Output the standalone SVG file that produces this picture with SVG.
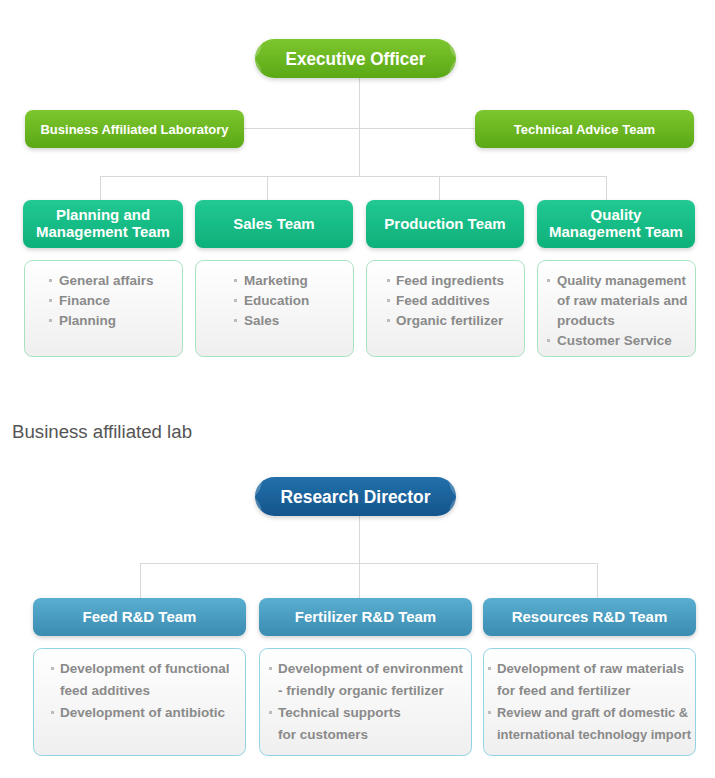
<svg xmlns="http://www.w3.org/2000/svg" width="715" height="778" viewBox="0 0 715 778">
<defs>
<linearGradient id="gGreen" x1="0" y1="0" x2="0" y2="1"><stop offset="0" stop-color="#7dc62f"/><stop offset="1" stop-color="#5aa816"/></linearGradient>
<linearGradient id="gTeal" x1="0" y1="0" x2="0" y2="1"><stop offset="0" stop-color="#22c892"/><stop offset="1" stop-color="#0eb07a"/></linearGradient>
<linearGradient id="gBlue" x1="0" y1="0" x2="0" y2="1"><stop offset="0" stop-color="#2370aa"/><stop offset="1" stop-color="#15558c"/></linearGradient>
<linearGradient id="gSky" x1="0" y1="0" x2="0" y2="1"><stop offset="0" stop-color="#5aaed0"/><stop offset="1" stop-color="#3a8cb0"/></linearGradient>
<linearGradient id="gBox" x1="0" y1="0" x2="0" y2="1"><stop offset="0" stop-color="#ffffff"/><stop offset="1" stop-color="#efefef"/></linearGradient>
<filter id="sh" x="-10%" y="-20%" width="120%" height="150%"><feDropShadow dx="0" dy="2" stdDeviation="2" flood-color="#000" flood-opacity="0.18"/></filter>
<clipPath id="cExec"><rect x="255" y="39" width="201" height="39" rx="19.5"/></clipPath>
<clipPath id="cRes"><rect x="255" y="477" width="201" height="39" rx="19.5"/></clipPath>
</defs>
<style>
.ln{stroke:#d8d8d8;stroke-width:1;fill:none}
.ttl{font-family:"Liberation Sans",Arial,sans-serif;font-weight:bold;fill:#fff;text-anchor:middle}
.li{font-family:"Liberation Sans",Arial,sans-serif;font-weight:bold;font-size:13.5px;fill:#8a8a8a}
.bul{fill:#bcbcbc}
.boxG{fill:url(#gBox);stroke:#a6e2c0;stroke-width:1}
.boxB{fill:url(#gBox);stroke:#92d2e2;stroke-width:1}
.pet{fill:#ffffff;opacity:0.22}
</style>

<g id="connectors">
<path class="ln" d="M359.5 78V176M244 128.5H475M100.5 176.5H606.5M100.5 176V200M267.5 176V200M439.5 176V200M606.5 176V200"/>
<path class="ln" d="M359.5 516V563M140.5 563.5H597.5M140.5 563V598M359.5 563V598M597.5 563V598"/>
</g>

<g id="exec">
<rect x="255" y="39" width="201" height="39" rx="19.5" fill="url(#gGreen)" filter="url(#sh)"/>
<g clip-path="url(#cExec)">
<circle class="pet" cx="240" cy="42" r="22"/><circle class="pet" cx="240" cy="76" r="22"/>
<circle class="pet" cx="471" cy="42" r="22"/><circle class="pet" cx="471" cy="76" r="22"/>
</g>
<text class="ttl" x="355.5" y="64.5" font-size="18" textLength="140" lengthAdjust="spacingAndGlyphs">Executive Officer</text>
</g>

<g id="lab">
<rect x="25" y="110" width="219" height="38" rx="8" fill="url(#gGreen)" filter="url(#sh)"/>
<text class="ttl" x="134.5" y="134" font-size="13">Business Affiliated Laboratory</text>
</g>
<g id="tech">
<rect x="475" y="110" width="219" height="38" rx="8" fill="url(#gGreen)" filter="url(#sh)"/>
<text class="ttl" x="584.5" y="134" font-size="13">Technical Advice Team</text>
</g>

<g id="planning">
<rect x="23" y="200" width="160" height="48" rx="8" fill="url(#gTeal)" filter="url(#sh)"/>
<text class="ttl" x="103" y="220" font-size="15">Planning and</text>
<text class="ttl" x="103" y="237" font-size="15">Management Team</text>
<rect class="boxG" x="24.5" y="260.5" width="158" height="96" rx="8"/>
<rect class="bul" x="49" y="279" width="3" height="3"/><text class="li" x="59" y="285">General affairs</text>
<rect class="bul" x="49" y="299" width="3" height="3"/><text class="li" x="59" y="305">Finance</text>
<rect class="bul" x="49" y="319" width="3" height="3"/><text class="li" x="59" y="325">Planning</text>
</g>

<g id="sales">
<rect x="195" y="200" width="158" height="48" rx="8" fill="url(#gTeal)" filter="url(#sh)"/>
<text class="ttl" x="274" y="229" font-size="15">Sales Team</text>
<rect class="boxG" x="195.5" y="260.5" width="158" height="96" rx="8"/>
<rect class="bul" x="234" y="279" width="3" height="3"/><text class="li" x="244" y="285">Marketing</text>
<rect class="bul" x="234" y="299" width="3" height="3"/><text class="li" x="244" y="305">Education</text>
<rect class="bul" x="234" y="319" width="3" height="3"/><text class="li" x="244" y="325">Sales</text>
</g>

<g id="production">
<rect x="366" y="200" width="158" height="48" rx="8" fill="url(#gTeal)" filter="url(#sh)"/>
<text class="ttl" x="445" y="229" font-size="15">Production Team</text>
<rect class="boxG" x="366.5" y="260.5" width="158" height="96" rx="8"/>
<rect class="bul" x="387" y="279" width="3" height="3"/><text class="li" x="396" y="285">Feed ingredients</text>
<rect class="bul" x="387" y="299" width="3" height="3"/><text class="li" x="396" y="305">Feed additives</text>
<rect class="bul" x="387" y="319" width="3" height="3"/><text class="li" x="396" y="325">Organic fertilizer</text>
</g>

<g id="quality">
<rect x="537" y="200" width="158" height="48" rx="8" fill="url(#gTeal)" filter="url(#sh)"/>
<text class="ttl" x="616" y="220" font-size="15">Quality</text>
<text class="ttl" x="616" y="237" font-size="15">Management Team</text>
<rect class="boxG" x="537.5" y="260.5" width="158" height="96" rx="8"/>
<rect class="bul" x="547" y="279" width="3" height="3"/><text class="li" x="557" y="285" textLength="129" lengthAdjust="spacingAndGlyphs">Quality management</text>
<text class="li" x="557" y="305">of raw materials and</text>
<text class="li" x="557" y="325">products</text>
<rect class="bul" x="547" y="339" width="3" height="3"/><text class="li" x="557" y="345">Customer Service</text>
</g>

<text x="12" y="438" font-family="'Liberation Sans',Arial,sans-serif" font-size="18" fill="#555" textLength="180" lengthAdjust="spacingAndGlyphs">Business affiliated lab</text>

<g id="research">
<rect x="255" y="477" width="201" height="39" rx="19.5" fill="url(#gBlue)" filter="url(#sh)"/>
<g clip-path="url(#cRes)">
<circle class="pet" cx="240" cy="480" r="22"/><circle class="pet" cx="240" cy="514" r="22"/>
<circle class="pet" cx="471" cy="480" r="22"/><circle class="pet" cx="471" cy="514" r="22"/>
</g>
<text class="ttl" x="355.5" y="502.5" font-size="18" textLength="150" lengthAdjust="spacingAndGlyphs">Research Director</text>
</g>

<g id="feed">
<rect x="33" y="598" width="213" height="38" rx="8" fill="url(#gSky)" filter="url(#sh)"/>
<text class="ttl" x="139.5" y="622" font-size="15">Feed R&amp;D Team</text>
<rect class="boxB" x="33.5" y="648.5" width="212" height="107" rx="8"/>
<rect class="bul" x="51" y="667" width="3" height="3"/><text class="li" x="60" y="673">Development of functional</text>
<text class="li" x="60" y="695">feed additives</text>
<rect class="bul" x="51" y="711" width="3" height="3"/><text class="li" x="60" y="717">Development of antibiotic</text>
</g>

<g id="fertilizer">
<rect x="259" y="598" width="213" height="38" rx="8" fill="url(#gSky)" filter="url(#sh)"/>
<text class="ttl" x="365.5" y="622" font-size="15">Fertilizer R&amp;D Team</text>
<rect class="boxB" x="259.5" y="648.5" width="212" height="107" rx="8"/>
<rect class="bul" x="269" y="667" width="3" height="3"/><text class="li" x="278" y="673" textLength="185" lengthAdjust="spacingAndGlyphs">Development of environment</text>
<text class="li" x="278" y="695"> - friendly organic fertilizer</text>
<rect class="bul" x="269" y="711" width="3" height="3"/><text class="li" x="278" y="717">Technical supports</text>
<text class="li" x="278" y="739">for customers</text>
</g>

<g id="resources">
<rect x="483" y="598" width="213" height="38" rx="8" fill="url(#gSky)" filter="url(#sh)"/>
<text class="ttl" x="589.5" y="622" font-size="15">Resources R&amp;D Team</text>
<rect class="boxB" x="483.5" y="648.5" width="212" height="107" rx="8"/>
<rect class="bul" x="488" y="667" width="3" height="3"/><text class="li" x="497" y="673" textLength="187" lengthAdjust="spacingAndGlyphs">Development of raw materials</text>
<text class="li" x="497" y="695">for feed and fertilizer</text>
<rect class="bul" x="488" y="711" width="3" height="3"/><text class="li" x="497" y="717" textLength="191" lengthAdjust="spacingAndGlyphs">Review and graft of domestic &amp;</text>
<text class="li" x="497" y="739" textLength="194" lengthAdjust="spacingAndGlyphs">international technology import</text>
</g>
</svg>
